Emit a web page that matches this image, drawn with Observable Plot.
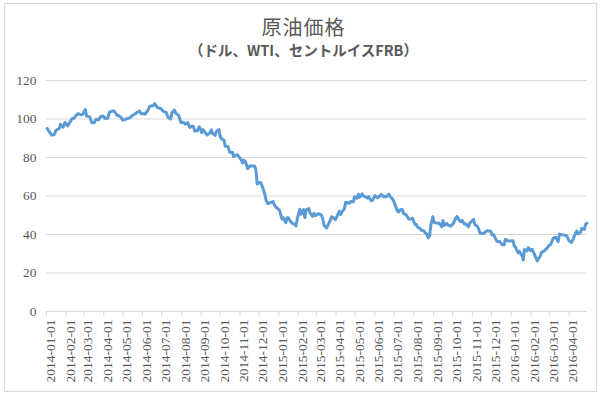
<!DOCTYPE html>
<html>
<head>
<meta charset="utf-8">
<script src="https://cdn.jsdelivr.net/npm/d3@7"></script>
<script src="https://cdn.jsdelivr.net/npm/@observablehq/plot@0.6"></script>
<style>
  html, body { margin: 0; padding: 0; background: #fff; }
  #wrap { position: relative; width: 607px; height: 397px; overflow: hidden; }
  #frame { position: absolute; left: 4px; top: 3px; width: 593px; height: 389px; border: 1px solid #d9d9d9; box-sizing: border-box; }
  #title { position: absolute; left: 0; top: 17px; width: 607px; text-align: center; font-family: "Noto Sans CJK JP", sans-serif; font-size: 20px; color: #595959; letter-spacing: 1px; line-height: 20px; }
  #subtitle { position: absolute; left: 0; top: 42px; width: 607px; text-align: center; font-family: "Noto Sans CJK JP", sans-serif; font-size: 14.5px; font-weight: bold; color: #595959; line-height: 15px; }
  #chart { position: absolute; left: 0; top: 62px; }
  #chart svg, #chart svg text { font-family: "Liberation Serif", "DejaVu Serif", serif !important; }
</style>
</head>
<body>
<div id="wrap">
  <div id="frame"></div>
  <div id="title">原油価格</div>
  <div id="subtitle">（ドル、WTI、セントルイスFRB）</div>
  <div id="chart"></div>
</div>
<script>
const dates = [
"2014-01-02","2014-01-06","2014-01-09","2014-01-13","2014-01-16","2014-01-21","2014-01-23","2014-01-27","2014-01-30",
"2014-02-03","2014-02-06","2014-02-10","2014-02-13","2014-02-18","2014-02-20","2014-02-24","2014-02-27",
"2014-03-03","2014-03-05","2014-03-10","2014-03-13","2014-03-17","2014-03-20","2014-03-24","2014-03-27","2014-03-31",
"2014-04-03","2014-04-07","2014-04-10","2014-04-14","2014-04-17","2014-04-22","2014-04-24","2014-04-28",
"2014-05-01","2014-05-05","2014-05-08","2014-05-12","2014-05-15","2014-05-19","2014-05-22","2014-05-27","2014-05-30",
"2014-06-03","2014-06-05","2014-06-09","2014-06-12","2014-06-16","2014-06-18","2014-06-20","2014-06-24","2014-06-26","2014-06-30",
"2014-07-03","2014-07-08","2014-07-11","2014-07-15","2014-07-17","2014-07-21","2014-07-23","2014-07-28","2014-07-31",
"2014-08-04","2014-08-07","2014-08-11","2014-08-14","2014-08-18","2014-08-20","2014-08-22","2014-08-26","2014-08-29",
"2014-09-02","2014-09-04","2014-09-08","2014-09-10","2014-09-15","2014-09-17","2014-09-19","2014-09-23","2014-09-25","2014-09-29",
"2014-10-01","2014-10-03","2014-10-07","2014-10-09","2014-10-13","2014-10-16","2014-10-20","2014-10-22","2014-10-24","2014-10-28","2014-10-30",
"2014-11-03","2014-11-05","2014-11-07","2014-11-10","2014-11-13","2014-11-17","2014-11-20","2014-11-24","2014-11-26","2014-11-28",
"2014-12-02","2014-12-04","2014-12-08","2014-12-10","2014-12-12","2014-12-15","2014-12-17","2014-12-19","2014-12-23","2014-12-26","2014-12-30",
"2015-01-02","2015-01-06","2015-01-08","2015-01-12","2015-01-14","2015-01-16","2015-01-20","2015-01-22","2015-01-26","2015-01-28","2015-01-30",
"2015-02-03","2015-02-05","2015-02-09","2015-02-11","2015-02-13","2015-02-17","2015-02-19","2015-02-23","2015-02-25","2015-02-27",
"2015-03-03","2015-03-05","2015-03-09","2015-03-11","2015-03-13","2015-03-17","2015-03-19","2015-03-23","2015-03-25","2015-03-27","2015-03-31",
"2015-04-02","2015-04-06","2015-04-08","2015-04-10","2015-04-14","2015-04-16","2015-04-20","2015-04-22","2015-04-24","2015-04-28","2015-04-30",
"2015-05-04","2015-05-06","2015-05-08","2015-05-12","2015-05-14","2015-05-18","2015-05-20","2015-05-22","2015-05-26","2015-05-28",
"2015-06-01","2015-06-03","2015-06-05","2015-06-09","2015-06-11","2015-06-15","2015-06-17","2015-06-19","2015-06-23","2015-06-25","2015-06-29",
"2015-07-01","2015-07-06","2015-07-08","2015-07-10","2015-07-14","2015-07-16","2015-07-20","2015-07-22","2015-07-24","2015-07-28","2015-07-30",
"2015-08-03","2015-08-05","2015-08-07","2015-08-11","2015-08-13","2015-08-17","2015-08-19","2015-08-21","2015-08-24","2015-08-26","2015-08-28","2015-08-31",
"2015-09-02","2015-09-04","2015-09-08","2015-09-10","2015-09-14","2015-09-16","2015-09-18","2015-09-22","2015-09-24","2015-09-28","2015-09-30",
"2015-10-02","2015-10-06","2015-10-08","2015-10-12","2015-10-14","2015-10-16","2015-10-20","2015-10-22","2015-10-26","2015-10-28","2015-10-30",
"2015-11-03","2015-11-05","2015-11-09","2015-11-11","2015-11-13","2015-11-17","2015-11-19","2015-11-23","2015-11-25","2015-11-30",
"2015-12-02","2015-12-04","2015-12-08","2015-12-10","2015-12-14","2015-12-16","2015-12-18","2015-12-21","2015-12-23","2015-12-28","2015-12-30",
"2016-01-04","2016-01-06","2016-01-08","2016-01-12","2016-01-14","2016-01-19","2016-01-20","2016-01-22","2016-01-26","2016-01-28",
"2016-02-01","2016-02-03","2016-02-05","2016-02-09","2016-02-11","2016-02-16","2016-02-18","2016-02-22","2016-02-24","2016-02-26",
"2016-03-01","2016-03-03","2016-03-07","2016-03-09","2016-03-11","2016-03-15","2016-03-17","2016-03-21","2016-03-23","2016-03-28","2016-03-30",
"2016-04-01","2016-04-05","2016-04-07","2016-04-11","2016-04-13","2016-04-15","2016-04-19","2016-04-21","2016-04-25","2016-04-27","2016-04-29"
];
const prices = [
95.1,93.1,91.7,91.8,94.2,95.0,97.3,95.7,98.2,
96.4,97.8,100.1,100.4,102.4,102.8,102.2,102.4,
104.9,101.5,101.1,98.2,98.1,99.9,99.6,101.3,101.6,
100.3,100.4,103.6,104.1,104.3,101.8,101.9,100.8,
99.4,99.8,100.3,100.6,101.5,102.4,103.1,104.1,102.7,
102.7,102.6,104.4,106.5,106.9,107.0,108.0,106.0,105.8,105.4,
104.1,103.4,100.8,100.0,103.2,104.6,103.1,101.7,98.2,
98.3,97.3,98.1,95.6,96.4,96.1,93.7,93.9,96.0,
92.9,94.5,92.7,91.7,92.9,94.4,92.4,91.5,93.6,94.5,
90.7,89.7,88.9,85.8,85.7,82.7,82.7,80.5,81.0,81.4,80.5,
78.8,77.2,78.7,77.4,74.2,75.7,75.6,75.6,73.7,66.2,
67.0,66.8,63.1,60.9,57.8,56.0,56.5,56.5,57.1,54.7,53.6,
52.7,48.0,48.8,46.1,48.7,48.7,46.5,45.9,45.2,44.5,48.2,
53.1,50.5,52.9,48.8,52.8,53.5,51.2,49.5,51.0,49.8,
50.5,50.8,50.0,48.2,44.8,43.4,44.7,47.5,49.2,48.9,47.7,
49.1,52.1,50.4,51.6,53.3,56.7,56.4,56.2,57.2,57.0,59.6,
58.9,60.9,59.4,61.1,59.9,59.4,59.0,59.7,57.5,57.7,
60.2,59.6,59.1,60.1,60.8,59.5,59.9,59.6,61.0,59.7,58.3,
56.9,52.5,51.7,52.7,53.0,50.9,50.2,49.2,48.1,48.0,48.5,
45.2,45.2,43.9,43.1,42.2,41.9,40.8,40.5,38.2,39.6,45.2,49.2,
46.3,46.1,45.9,45.9,44.0,47.2,44.7,45.8,44.9,44.3,45.1,
45.5,48.5,49.4,47.1,46.6,47.3,45.3,45.4,44.0,45.9,46.6,
47.9,45.2,44.2,42.9,40.7,40.7,40.5,41.8,42.0,41.7,
39.9,40.0,37.6,36.3,36.3,35.5,34.7,34.6,37.5,36.6,36.6,
36.8,34.0,33.3,30.4,31.2,28.5,26.7,32.2,31.5,33.2,
31.6,32.3,30.9,27.9,26.2,29.0,30.8,31.4,32.2,32.8,
34.4,34.7,37.9,38.3,38.5,36.3,40.2,39.9,39.8,39.4,38.3,
36.8,35.9,37.3,40.4,41.8,40.4,41.1,43.2,42.6,45.3,45.9
];
const yTicks = [0, 20, 40, 60, 80, 100, 120];
const xTickLabels = [
"2014-01-01","2014-02-01","2014-03-01","2014-04-01","2014-05-01","2014-06-01","2014-07-01","2014-08-01","2014-09-01","2014-10-01","2014-11-01","2014-12-01",
"2015-01-01","2015-02-01","2015-03-01","2015-04-01","2015-05-01","2015-06-01","2015-07-01","2015-08-01","2015-09-01","2015-10-01","2015-11-01","2015-12-01",
"2016-01-01","2016-02-01","2016-03-01","2016-04-01"
];

const data = dates.map((d, i) => ({date: new Date(d + "T00:00:00Z"), price: prices[i]}));
const xTicks = xTickLabels.map(s => new Date(s + "T00:00:00Z"));
const fmt = d3.utcFormat("%Y-%m-%d");

const chart = Plot.plot({
  width: 607,
  height: 335,
  marginTop: 18,
  marginLeft: 46,
  marginRight: 20,
  marginBottom: 86,
  x: {type: "utc", domain: [new Date("2014-01-01T00:00:00Z"), new Date("2016-04-30T00:00:00Z")]},
  y: {domain: [0, 120]},
  style: {fontFamily: "'Liberation Serif', serif", fontSize: "13.5px", color: "#595959", background: "transparent"},
  marks: [
    Plot.gridY(yTicks.filter(v => v > 0), {stroke: "#d9d9d9", strokeOpacity: 1, strokeWidth: 1}),
    Plot.ruleY([0], {stroke: "#d9d9d9", strokeWidth: 1}),
    Plot.axisY({ticks: yTicks, tickSize: 0, tickPadding: 10, label: null, fill: "#595959"}),
    Plot.ruleX(xTicks, {x: d => d, y1: 0, y2: 0, insetBottom: -5, stroke: "#d9d9d9"}),
    Plot.axisX({ticks: xTicks, tickFormat: fmt, tickRotate: -90, tickSize: 0, tickPadding: 8, dx: 4, label: null, fill: "#595959"}),
    Plot.lineY(data, {x: "date", y: "price", stroke: "#5b9bd5", strokeWidth: 3, strokeLinejoin: "round"})
  ]
});
document.getElementById("chart").appendChild(chart);
</script>
</body>
</html>
